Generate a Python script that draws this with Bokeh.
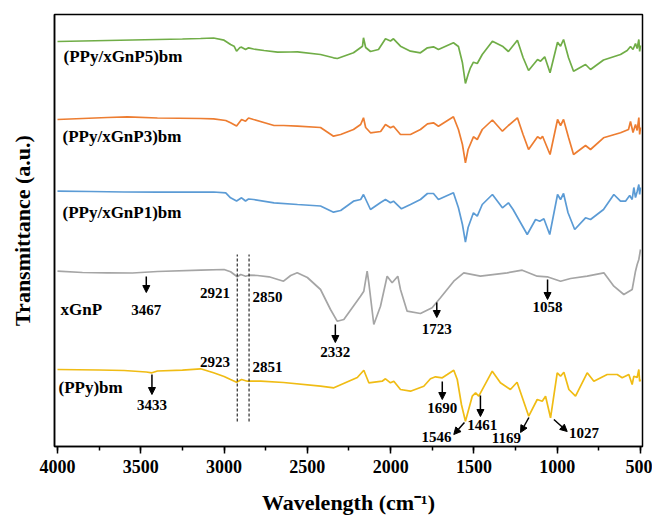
from bokeh.plotting import figure
from bokeh.models import Range1d, SingleIntervalTicker, FixedTicker, Arrow, NormalHead, ColumnDataSource
from bokeh.core.properties import value
from bokeh.embed import file_html
from bokeh.resources import INLINE

FONT = "Liberation Serif"

# ---------------- data (wavenumber, transmittance a.u., stacked) ----------------
p5_wn = [4000, 3850, 3700, 3550, 3400, 3250, 3141, 3063, 3000, 2961, 2940, 2925, 2905, 2895, 2871, 2853,
         2823, 2760, 2679, 2600, 2559, 2421, 2343, 2320, 2223, 2169, 2163, 2150, 2121, 2073, 2031, 2001,
         1983, 1941, 1881, 1821, 1779, 1743, 1713, 1623, 1593, 1569, 1551, 1535, 1521, 1503, 1480, 1450,
         1389, 1329, 1293, 1239, 1205, 1172, 1118, 1100, 1075, 1043, 998, 980, 962, 932, 902, 830, 800,
         722, 620, 580, 560, 545, 530, 520, 510, 505, 500]
p5_t = [405, 405.5, 406, 406.5, 407, 407.5, 408, 408.5, 406.3, 402, 400.3, 395.3, 399, 399.3, 397, 398.7,
        397.5, 396, 394.3, 394.5, 394.7, 392, 388.7, 388, 393.7, 400.3, 408.7, 399, 395, 397, 407.7, 405.5,
        407.7, 400.3, 395.3, 393.7, 398.7, 399.7, 397, 403.7, 400, 383.7, 363, 372, 378.7, 384.3, 383, 392,
        405.3, 400.3, 395, 406.3, 389, 376, 387, 385.3, 389.7, 373.7, 404.3, 400.3, 407, 388.7, 375.3, 382, 377,
        386.5, 392, 396, 400, 397, 403, 398, 407, 395, 401]

p3_wn = [4000, 3850, 3700, 3580, 3400, 3141, 3063, 2990, 2961, 2925, 2895, 2871, 2853, 2823, 2700, 2643,
         2559, 2421, 2343, 2300, 2223, 2180, 2163, 2150, 2121, 2060, 2031, 2001, 1983, 1941, 1881, 1821,
         1779, 1743, 1713, 1623, 1593, 1569, 1551, 1535, 1503, 1480, 1450, 1389, 1329, 1293, 1239, 1205,
         1172, 1118, 1100, 1088, 1043, 998, 980, 962, 932, 902, 830, 800, 722, 620, 572, 560, 545, 530,
         520, 510, 505, 500]
p3_t = [327, 328, 329, 329.7, 328.5, 328, 327.7, 326, 323.7, 320.5, 327, 325.3, 328.5, 327, 321, 321,
        320.3, 319, 310.3, 312, 317, 322, 328.7, 319, 313.7, 315, 322, 318.7, 320.3, 312, 312, 317,
        322.7, 323.7, 320.3, 329.7, 317, 302, 283.7, 297, 309.7, 307, 317, 326.5, 315.3, 321, 328.7, 312,
        297, 309.7, 307.7, 310.3, 292, 327, 321, 327, 309, 292, 301, 297, 308.7, 313.7, 317, 325, 314, 322,
        316, 329, 312, 319]

p1_wn = [4000, 3800, 3600, 3400, 3141, 3063, 2990, 2961, 2925, 2895, 2871, 2853, 2823, 2700, 2559, 2421,
         2343, 2300, 2223, 2180, 2163, 2121, 2060, 2031, 2001, 1983, 1935, 1881, 1821, 1779, 1743, 1713,
         1623, 1593, 1569, 1551, 1535, 1503, 1480, 1450, 1389, 1329, 1293, 1265, 1180, 1130, 1105, 1080,
         1045, 998, 980, 962, 935, 895, 830, 800, 722, 660, 620, 590, 565, 550, 540, 530, 520, 510, 505, 500]
p1_t = [255.3, 255, 254.5, 254.3, 254.3, 254.5, 253.7, 248.7, 245.5, 248.7, 245.5, 247.5, 247, 243.7, 242, 240.5,
        234.3, 236, 245.3, 247, 252, 237, 244, 247, 243.7, 245.3, 237.7, 242, 247, 253, 253, 247,
        253.7, 238.7, 222, 204.3, 219, 233.7, 230.3, 242, 252, 238.7, 243.7, 237, 212, 227, 225.3, 227.7,
        212, 252, 247, 253, 233.7, 217, 228.7, 227, 237, 252, 245.3, 245.3, 251, 247, 259, 249, 255, 262, 252, 259]

gnp_wn = [4000, 3850, 3700, 3550, 3400, 3141, 3000, 2961, 2921, 2900, 2870, 2850, 2800, 2730, 2643, 2600,
          2561, 2500, 2421, 2361, 2321, 2281, 2181, 2161, 2141, 2131, 2101, 2061, 2021, 1991, 1957, 1941,
          1901, 1821, 1751, 1701, 1621, 1561, 1461, 1300, 1210, 1120, 1060, 980, 920, 820, 720, 660, 600,
          550, 530, 520, 510, 500]
gnp_t = [175.3, 174, 173.7, 173.5, 175, 176.3, 177, 174.7, 169.7, 172, 170.3, 171.3, 171, 169.7, 165.3, 171,
         173.7, 169, 157, 137, 125.3, 127, 150.3, 155.3, 175.3, 163.7, 122, 140.3, 170.3, 163.7, 170.3, 157,
         135.3, 133, 138.7, 148.7, 165.3, 173.7, 170.3, 173.7, 176.3, 170.3, 169.7, 165.3, 168, 170.3, 173.7,
         160.3, 152, 157, 175.3, 182, 187, 197]

ppy_wn = [4000, 3750, 3600, 3467, 3433, 3400, 3250, 3141, 3063, 3000, 2961, 2925, 2895, 2860, 2780, 2643,
          2421, 2341, 2200, 2161, 2131, 2051, 2031, 2001, 1981, 1941, 1881, 1801, 1761, 1731, 1690, 1660,
          1621, 1600, 1575, 1551, 1510, 1490, 1471, 1390, 1341, 1281, 1241, 1171, 1120, 1090, 1070, 1040,
          1000, 980, 960, 930, 890, 820, 780, 700, 640, 610, 570, 550, 540, 520, 510, 505, 500]
ppy_t = [77, 76.5, 76, 74.5, 73.7, 75.5, 76.3, 77.7, 73.7, 70, 67, 64.3, 67, 65.3, 65.3, 64,
         60.3, 58.7, 69, 76.3, 63.7, 65.3, 67.7, 63.7, 65.3, 57, 55.3, 60.3, 67.7, 69.7, 68.7, 72,
         76.3, 67, 42, 25.3, 50.3, 53.7, 50.3, 75.3, 63.7, 57, 64.3, 30.3, 47, 45.3, 50.3, 28.7,
         73.7, 70.3, 74.3, 57, 50.3, 73.7, 65.3, 72, 72, 68.7, 72, 62, 70.3, 69, 77, 65, 67]

series_names = ["(PPy/xGnP5)bm", "(PPy/xGnP3)bm", "(PPy/xGnP1)bm", "xGnP", "(PPy)bm"]
series_colors = ["#70AD47", "#ED7D31", "#5B9BD5", "#A5A5A5", "#F0BC14"]
series_label_x = [3964, 3970, 3970, 3982, 3994]
series_label_y = [390, 310, 234, 137, 59]

# peak annotations
arrow_x0 = [3467, 2332, 1723, 1058, 3433, 1690, 1461, 1557, 1170, 1020]
arrow_y0 = [170, 122, 144, 167, 72, 65, 51, 24, 29, 27]
arrow_x1 = [3467, 2332, 1723, 1058, 3433, 1690, 1461, 1621, 1220, 940]
arrow_y1 = [154, 104, 129, 147, 52, 47, 30, 12, 14, 15]

peak_text = ["3467", "2921", "2850", "2332", "1723", "1058", "2923", "2851", "3433", "1690", "1461", "1546", "1169", "1027"]
peak_x = [3467, 2965, 2830, 2332, 1723, 1058, 2965, 2830, 3433, 1690, 1450, 1635, 1305, 930]
peak_y = [137, 154, 150, 95, 118, 140, 85, 80, 42, 39, 22, 10, 9, 14]
peak_align = ["center", "right", "left", "center", "center", "center", "right", "left", "center", "center",
              "center", "right", "center", "left"]

guide_x = [2921, 2850]
guide_y0 = [25, 25]
guide_y1 = [192, 192]

x_ticks_interval = 500

# ---------------- figure ----------------
p = figure(width=652, height=517, output_backend="svg", toolbar_location=None,
           x_range=Range1d(4018, 488), y_range=Range1d(0, 432),
           min_border_left=54, min_border_right=10, min_border_top=14, min_border_bottom=71)
p.background_fill_color = "white"
p.border_fill_color = "white"
p.xgrid.visible = False
p.ygrid.visible = False
p.outline_line_color = "black"
p.outline_line_width = 1.5

# x axis
p.xaxis.ticker = SingleIntervalTicker(interval=x_ticks_interval, num_minor_ticks=2)
p.xaxis.axis_line_width = 1.5
p.xaxis.major_tick_line_width = 1.5
p.xaxis.minor_tick_line_width = 1.5
p.xaxis.minor_tick_line_color = "black"
p.xaxis.major_tick_out = 7
p.xaxis.major_tick_in = 0
p.xaxis.minor_tick_out = 4
p.xaxis.minor_tick_in = 0
p.xaxis.major_label_text_font = FONT
p.xaxis.major_label_text_font_style = "bold"
p.xaxis.major_label_text_font_size = "18px"
p.xaxis.major_label_text_color = "black"
p.xaxis.major_label_standoff = 6
p.xaxis.axis_label = "Wavelength (cm\u207b\u00b9)"
p.xaxis.axis_label_text_font = FONT
p.xaxis.axis_label_text_font_style = "bold"
p.xaxis.axis_label_text_font_size = "22px"
p.xaxis.axis_label_text_color = "black"
p.xaxis.axis_label_standoff = 14

# y axis
p.yaxis.ticker = FixedTicker(ticks=[])
p.yaxis.major_tick_out = 0
p.yaxis.major_tick_in = 0
p.yaxis.minor_tick_out = 0
p.yaxis.axis_line_width = 1.5
p.yaxis.axis_label = "Transmittance (a.u.)"
p.yaxis.axis_label_text_font = FONT
p.yaxis.axis_label_text_font_style = "bold"
p.yaxis.axis_label_text_font_size = "22px"
p.yaxis.axis_label_text_color = "black"
p.yaxis.axis_label_standoff = 20

# spectra
all_x = [p5_wn, p3_wn, p1_wn, gnp_wn, ppy_wn]
all_y = [p5_t, p3_t, p1_t, gnp_t, ppy_t]
for xs, ys, c in zip(all_x, all_y, series_colors):
    p.line(xs, ys, line_color=c, line_width=1.7)

# series labels
p.text(x=series_label_x, y=series_label_y, text=series_names, text_font=value(FONT),
       text_font_style="bold", text_font_size="17px", text_baseline="middle", text_align="left",
       text_color="black")

# dashed guide lines
p.segment(x0=guide_x, y0=guide_y0, x1=guide_x, y1=guide_y1, line_color="black",
          line_width=1, line_dash="3 2")

# arrows
asrc = ColumnDataSource(dict(x0=arrow_x0, y0=arrow_y0, x1=arrow_x1, y1=arrow_y1))
p.add_layout(Arrow(end=NormalHead(size=7, fill_color="black", line_color="black"),
                   source=asrc, x_start="x0", y_start="y0", x_end="x1", y_end="y1",
                   line_color="black", line_width=1.5))

# peak labels
psrc = ColumnDataSource(dict(x=peak_x, y=peak_y, t=peak_text, a=peak_align))
p.text(x="x", y="y", text="t", text_align="a", source=psrc, text_font=value(FONT),
       text_font_style="bold", text_font_size="15px", text_baseline="middle", text_color="black")

open("out.html", "w").write(file_html(p, INLINE))
